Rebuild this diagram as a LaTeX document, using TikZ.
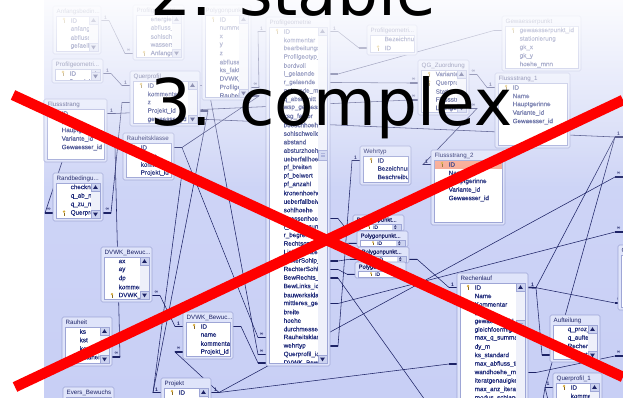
\documentclass[tikz,border=0pt]{standalone}
\usepackage{fontspec}
\setmainfont{Liberation Sans}
\newfontfamily\fieldfont[FakeBold=0.4]{Liberation Sans}
\newfontfamily\slidefont{DejaVu Sans}
\usetikzlibrary{fadings,calc}

\definecolor{canvas}{HTML}{C8CFF5}
\definecolor{canvastop}{HTML}{D2D8F7}
\definecolor{navy}{HTML}{1D2366}
\definecolor{fieldclr}{HTML}{1E2A7A}
\definecolor{frameclr}{HTML}{9EA6D6}
\definecolor{framefill}{HTML}{DFE4FA}
\definecolor{scrollbg}{HTML}{EEF0FA}
\definecolor{scrollbtn}{HTML}{CCD3F0}
\definecolor{keygold}{HTML}{D4A93A}
\definecolor{keydark}{HTML}{8A6A20}
\definecolor{hlrow}{HTML}{F7A58E}
\definecolor{xred}{HTML}{FF0000}

\pgfdeclarelayer{canvaslayer}
\pgfdeclarelayer{linelayer}
\pgfsetlayers{canvaslayer,linelayer,main}

\tikzfading[name=topfade, top color=transparent!8, bottom color=transparent!100]

\newcounter{cardno}

% key glyph of a primary key field
\newcommand\keyicon[2]{%
  \fill[keygold] (#1,#2-1.4) circle (1.35);
  \fill[keydark] (#1-0.35,#2-0.4) rectangle (#1+0.35,#2+2.7);
  \fill[keydark] (#1,#2+1.5) rectangle (#1+1.1,#2+2.1);}

% table window: name, x, y, width, height, title, fields (k=key, h=selected key, n=plain),
% scrollbar (0 none, 1 without thumb, >1 thumb offset)
\newcommand\dbtab[8]{%
 \begin{scope}[shift={(#2,#3)}]
  \pgfmathsetmacro\tw{#4}\pgfmathsetmacro\th{#5}
  \pgfmathsetmacro\sw{#8>0?9:0}
  \filldraw[tabframe] (0,0) rectangle (\tw,\th);
  \node[tabtitle] (#1-title) at (3.5,5.6) {#6};
  \fill[white] (3,9.8) rectangle (\tw-3,\th-2.5);
  \begin{scope}
   \clip (3,9.8) rectangle (\tw-3-\sw,\th-2.5);
   \foreach \k/\f [count=\i] in {#7} {
     \pgfmathsetmacro\ry{14.5+8.5*(\i-1)}
     \if h\k \fill[hlrow] (3,\ry-4.25) rectangle (\tw-3,\ry+4.25);\fi
     \if n\k\else\keyicon{11}{\ry}\fi
     \node[fieldtext] (#1-f\i) at (17.5,\ry) {\f};
   }
  \end{scope}
  \foreach \k/\f [count=\i] in {#7} {
     \pgfmathsetmacro\ry{14.5+8.5*(\i-1)}
     \coordinate (#1-w\i) at (0,\ry);
     \coordinate (#1-e\i) at (\tw,\ry);
     \coordinate (#1-ws\i) at (-8,\ry);
     \coordinate (#1-es\i) at (\tw+8,\ry);
  }
  \ifnum#8>0
   \fill[scrollbg] (\tw-12,9.8) rectangle (\tw-3,\th-2.5);
   \filldraw[scrollbtn, draw=frameclr, line width=0.3pt] (\tw-12,9.8) rectangle (\tw-3,18);
   \fill[navy] (\tw-7.5,12.2) -- (\tw-9.8,15.8) -- (\tw-5.2,15.8) -- cycle;
   \filldraw[scrollbtn, draw=frameclr, line width=0.3pt] (\tw-12,\th-10.7) rectangle (\tw-3,\th-2.5);
   \fill[navy] (\tw-7.5,\th-4.7) -- (\tw-9.8,\th-8.3) -- (\tw-5.2,\th-8.3) -- cycle;
   \ifnum#8>1
    \filldraw[scrollbtn, draw=frameclr, line width=0.3pt] (\tw-12,#8) rectangle (\tw-3,#8+10);
    \draw[frameclr, line width=0.4pt] (\tw-9.5,#8+3.5) -- (\tw-5.5,#8+3.5)
      (\tw-9.5,#8+5) -- (\tw-5.5,#8+5) (\tw-9.5,#8+6.5) -- (\tw-5.5,#8+6.5);
   \fi
  \fi
  \draw[frameclr, line width=0.4pt] (3,9.8) rectangle (\tw-3,\th-2.5);
 \end{scope}}

% collapsed one-row table window
\newcommand\polytab[3]{%
 \begin{scope}[shift={(#2,#3)}]
  \filldraw[tabframe] (0,0) rectangle (51,16);
  \node[tabtitle, font=\fieldfont\fontsize{5.8}{6}\selectfont] (#1-title) at (3.5,5.2) {Polygonpunkt...};
  \fill[white] (3,9.3) rectangle (48,15);
  \begin{scope}[shift={(16,12.1)}, scale=0.7, shift={(-16,-12.1)}]
   \keyicon{16}{12.1}
  \end{scope}
  \node[fieldtext, font=\fieldfont\fontsize{4.8}{5}\selectfont] (#1-f1) at (20,12.2) {ID};
  \fill[scrollbtn] (39,9.3) rectangle (48,15);
  \fill[navy] (41,11.7) -- (43.5,11.7) -- (42.25,10.2) -- cycle;
  \fill[navy] (41,12.7) -- (43.5,12.7) -- (42.25,14.2) -- cycle;
  \draw[frameclr, line width=0.4pt] (3,9.3) rectangle (48,15);
  \coordinate (#1-w1) at (0,12.2);
  \coordinate (#1-e1) at (51,12.2);
  \coordinate (#1-ws1) at (-8,12.2);
  \coordinate (#1-es1) at (59,12.2);
 \end{scope}}

% relationship: field end, its stub, other stub, other field end, two end labels
\newcommand\rel[6]{%
  \draw[relline] (#1) -- (#2) -- (#3) -- (#4);
  \draw[stubline] (#1) -- (#2);
  \draw[stubline] (#3) -- (#4);
  \if\relax\detokenize{#5}\relax\else
    \stepcounter{cardno}%
    \node[card] (card\arabic{cardno}) at ($(#1)!0.55!(#2)+(0,-3.2)$) {#5};\fi
  \if\relax\detokenize{#6}\relax\else
    \stepcounter{cardno}%
    \node[card] (card\arabic{cardno}) at ($(#4)!0.55!(#3)+(0,-3.2)$) {#6};\fi}

\begin{document}
\catcode`\_=12
\begin{tikzpicture}[x=1pt,y=-1pt,
  tabframe/.style={draw=frameclr, fill=framefill, line width=0.6pt, rounded corners=1.5pt},
  tabtitle/.style={anchor=west, inner sep=0pt, text=navy, font=\fontsize{6.2}{7}\selectfont},
  fieldtext/.style={anchor=west, inner sep=0pt, text=fieldclr, font=\fieldfont\fontsize{6.3}{7}\selectfont},
  relline/.style={draw=navy, line width=0.55pt},
  stubline/.style={draw=navy, line width=1.3pt},
  card/.style={inner sep=0pt, text=navy, font=\fontsize{5}{5}\selectfont\bfseries},
  slide/.style={anchor=base west, inner sep=0pt, text=black, font=\slidefont\fontsize{64.5}{70}\selectfont}]

\useasboundingbox (0,0) rectangle (623,398);

% canvas
\begin{pgfonlayer}{canvaslayer}
\fill[white] (0,0) rectangle (623,398);
\shade[top color=canvastop, bottom color=canvas] (44,0) rectangle (623,398);
\end{pgfonlayer}

% ---------------- table windows
\dbtab{anfang}{53}{6}{48}{48}{Anfangsbedin...}{k/ID,n/anfangswsp,n/abfluss,n/gefaelle}{1}
\dbtab{profgeoA}{133}{5}{51}{55}{Profilgeometri...}{n/energiehoehe,n/abfluss_q,n/sohlschwelle,n/wasserspiegel,k/Anfangsbed_id}{1}
\dbtab{profgeoB}{52}{59}{51}{24}{Profilgeometri...}{k/ID,n/Bezeichnung}{1}
\dbtab{querprofil}{130}{71}{70}{55}{Querprofil}{k/ID,n/kommentar,n/z,n/Projekt_id,n/gewaesser_id}{1}
\dbtab{flussstrang}{44}{99}{63}{63}{Flussstrang}{k/ID,n/Name,n/Hauptgerinne,n/Variante_id,n/Gewaesser_id}{0}
\dbtab{rkl}{123}{133}{51}{47}{Rauheitsklasse}{k/ID,n/Name,n/kommentar,n/Projekt_id}{0}
\dbtab{polygon}{202}{5}{49}{95}{Polygonpunkt...}{k/ID,n/nummer,n/x,n/y,n/z,n/abfluss,n/ks_faktor,n/DVWK_Bewuchs,n/Profilgeometrie_id,n/Rauheit_id}{1}
\dbtab{profgeo}{266}{17}{64}{349}{Profilgeometrie}{k/ID,n/kommentar,n/bearbeitungsstand,n/Profilgeotyp_id,n/bordvoll,n/l_gelaende,n/r_gelaende,n/gelaende_mitte,n/q_abschnitt,n/wsp_gemessen,n/ksg_faktor,n/boeschhoehe,n/sohlschwelle,n/abstand,n/absturzhoehe,n/ueberfallhoehe,n/pf_breiten,n/pf_beiwert,n/pf_anzahl,n/kronenhoehe,n/ueberfallbeiwert,n/sohlhoehe,n/strassenhoehe,n/l_begrenzung,n/r_begrenzung,n/Rechtsgrenze,n/Linksgrenze,n/LinkerSohlp_id,n/RechterSohlp_id,n/BewRechts_id,n/BewLinks_id,n/bauwerksklasse,n/mittleres_gefaelle,n/breite,n/hoehe,n/durchmesser,n/Rauheitsklasse_id,n/wehrtyp,n/Querprofil_id,n/DVWK_Bewuchs_id}{133}
\dbtab{profgeoC}{367}{25}{50}{30}{Profilgeometri...}{n/Bezeichnung,k/ID}{0}
\dbtab{gewpunkt}{502}{16}{79}{55}{Gewaesserpunkt}{k/gewaesserpunkt_id,n/stationierung,n/gk_x,n/gk_y,n/hoehe_mnn}{0}
\dbtab{qg}{418}{60}{51}{55}{QG_Zuordnung}{k/Variante_id,k/Querprofil_id,n/Station,n/Flussstrang_id,n/Laenge}{1}
\dbtab{fl1}{495}{73}{75}{75}{Flussstrang_1}{k/ID,n/Name,n/Hauptgerinne,n/Variante_id,n/Gewaesser_id}{0}
\dbtab{fl2}{431}{150}{74}{75}{Flussstrang_2}{h/ID,n/Name,n/Hauptgerinne,n/Variante_id,n/Gewaesser_id}{0}
\dbtab{wehrtyp}{360}{146}{51}{39}{Wehrtyp}{k/ID,n/Bezeichnung,n/Beschreibung}{0}
\polytab{polyA}{353}{215}
\polytab{polyB}{357}{231}
\polytab{polyC}{358}{247}
\polytab{polyD}{355}{262}
\dbtab{randbed}{53}{173}{50}{48}{Randbedingu...}{n/checkntyp,n/q_ab_m3s,n/q_zu_m3s,k/Querprofil_id}{1}
\dbtab{dvwkA}{101}{247}{51}{55}{DVWK_Bewuc...}{n/ax,n/ay,n/dp,n/kommentar,k/DVWK_Bewuchs_id}{1}
\dbtab{rauheit}{62}{317}{50}{49}{Rauheit}{n/ks,n/kst,n/kommentar,n/Rauheit}{1}
\dbtab{evers}{63}{387}{51}{30}{Evers_Bewuchs}{k/ID}{1}
\dbtab{dvwkB}{183}{312}{50}{47}{DVWK_Bewuc...}{k/ID,n/name,n/kommentar,n/Projekt_id}{0}
\dbtab{projekt}{161}{378}{50}{40}{Projekt}{k/ID,n/name}{1}
\dbtab{rechenlauf}{457}{273}{71}{140}{Rechenlauf}{k/ID,n/Name,n/Kommentar,n/Datum,n/gewaesser_id,n/gleichfoermig,n/max_q_summary,n/dy_m,n/ks_standard,n/max_abfluss_tiefe,n/wandhoehe_m,n/iteratgenauigkeit,n/max_anz_iterat,n/modus_schlange}{47}
\dbtab{aufteilung}{550}{315}{50}{47}{Aufteilung}{n/q_proz_anteil,n/q_aufteilung,k/Rechenlauf_id,n/Flussstrang_id}{1}
\dbtab{qp1}{553}{373}{49}{40}{Querprofil_1}{k/ID,n/kommentar}{1}
\dbtab{rt}{618}{245}{60}{65}{Gewaesser}{k/ID,n/Name,n/Laenge}{0}

% free ends of relationship lines
\coordinate (flbot) at (62,162);
\coordinate (edgeA) at (623,137);  \coordinate (edgeAs) at (615,137);
\coordinate (edgeF) at (623,177);  \coordinate (edgeFs) at (615,177);
\coordinate (edgeC) at (623,232);  \coordinate (edgeCs) at (615,232);
\coordinate (edgeD) at (623,303);  \coordinate (edgeDs) at (615,303);
\coordinate (edgeE) at (623,356);  \coordinate (edgeEs) at (615,356);
\coordinate (exitA) at (425,400);
\coordinate (exitB) at (543,400);
\coordinate (exitC) at (548,400);
\coordinate (bendR) at (536,287.7);

% ---------------- relationship lines, behind the windows
\begin{pgfonlayer}{linelayer}
\rel{anfang-e1}{anfang-es1}{profgeoA-ws5}{profgeoA-w5}{1}{∞}
\rel{profgeoB-e1}{profgeoB-es1}{querprofil-ws1}{querprofil-w1}{1}{1}
\rel{flussstrang-e1}{flussstrang-es1}{qg-ws4}{qg-w4}{1}{∞}
\rel{profgeo-e1}{profgeo-es1}{profgeoC-ws2}{profgeoC-w2}{1}{}
\rel{profgeo-e7}{profgeo-es7}{qg-ws2}{qg-w2}{}{∞}
\rel{profgeo-e6}{profgeo-es6}{gewpunkt-ws1}{gewpunkt-w1}{}{}
\rel{qg-e1}{qg-es1}{fl1-ws1}{fl1-w1}{∞}{1}
\rel{qg-e5}{qg-es5}{fl2-ws1}{fl2-w1}{∞}{1}
\rel{polygon-e9}{polygon-es9}{profgeo-ws1}{profgeo-w1}{∞}{1}
\rel{polygon-e10}{polygon-es10}{rkl-es1}{rkl-e1}{∞}{}
\rel{querprofil-e1}{querprofil-es1}{profgeo-ws39}{profgeo-w39}{1}{∞}
\rel{querprofil-e5}{querprofil-es5}{edgeAs}{edgeA}{}{1}
\draw[relline] (edgeAs) -- (qp1-ws1);
\draw[relline] (edgeAs) -- (bendR);

\draw[relline] (randbed-w4) -- (randbed-ws4) -- (flbot);
\draw[stubline] (randbed-w4) -- (randbed-ws4);
\node[card] (cardB) at (49,209.5) {∞};
\rel{randbed-e4}{randbed-es4}{querprofil-ws3}{querprofil-w3}{∞}{}
\rel{rauheit-e4}{rauheit-es4}{rkl-ws1}{rkl-w1}{∞}{1}
\rel{dvwkA-e5}{dvwkA-es5}{dvwkB-ws1}{dvwkB-w1}{∞}{1}
\rel{dvwkB-w4}{dvwkB-ws4}{projekt-es1}{projekt-e1}{∞}{1}
\rel{projekt-w1}{projekt-ws1}{rkl-es4}{rkl-e4}{1}{}
\rel{projekt-w1}{projekt-ws1}{querprofil-es4}{querprofil-e4}{}{}
\rel{projekt-e1}{projekt-es1}{rechenlauf-ws10}{rechenlauf-w10}{}{}
\rel{projekt-e1}{projekt-es1}{edgeFs}{edgeF}{}{∞}
\rel{rkl-e1}{rkl-es1}{profgeo-ws37}{profgeo-w37}{}{∞}
\rel{dvwkB-e1}{dvwkB-es1}{profgeo-ws40}{profgeo-w40}{}{}
\rel{wehrtyp-w1}{wehrtyp-ws1}{profgeo-es38}{profgeo-e38}{1}{}
\rel{profgeo-e23}{profgeo-es23}{polyA-ws1}{polyA-w1}{}{}
\rel{profgeo-e26}{profgeo-es26}{polyB-ws1}{polyB-w1}{}{}
\rel{profgeo-e28}{profgeo-es28}{polyC-ws1}{polyC-w1}{}{}
\rel{profgeo-e29}{profgeo-es29}{polyD-ws1}{polyD-w1}{}{}
\rel{polyC-e1}{polyC-es1}{rechenlauf-ws1}{rechenlauf-w1}{}{1}
\rel{profgeo-e33}{profgeo-es33}{edgeCs}{edgeC}{}{∞}
\draw[relline] (profgeo-e30) -- (profgeo-es30) -- (exitA);
\draw[stubline] (profgeo-e30) -- (profgeo-es30);
\rel{rechenlauf-e1}{bendR}{edgeDs}{edgeD}{1}{∞}
\rel{rechenlauf-e1}{bendR}{aufteilung-ws4}{aufteilung-w4}{}{}
\rel{rechenlauf-e11}{rechenlauf-es11}{edgeEs}{edgeE}{}{∞}
\draw[relline] (qp1-w1) -- (qp1-ws1) -- (exitB);
\draw[relline] (qp1-ws1) -- (exitC);
\draw[stubline] (qp1-w1) -- (qp1-ws1);
\node[card] (cardC) at (548,383.5) {1};
\end{pgfonlayer}

% fade of the upper part of the screenshot
\fill[white, path fading=topfade] (44,0) rectangle (623,190);

% slide text
\node[slide] (line2) at (150,16) {2. stable};
\node[slide] (line3) at (150,126) {3. complex};

% red cross
\coordinate (xa1) at (13,95);
\coordinate (xa2) at (623,377);
\coordinate (xb1) at (15,387);
\coordinate (xb2) at (623,100);
\draw[xred, line width=10.5pt] (xa1) -- (xa2);
\draw[xred, line width=10.5pt] (xb1) -- (xb2);
\end{tikzpicture}
\end{document}
